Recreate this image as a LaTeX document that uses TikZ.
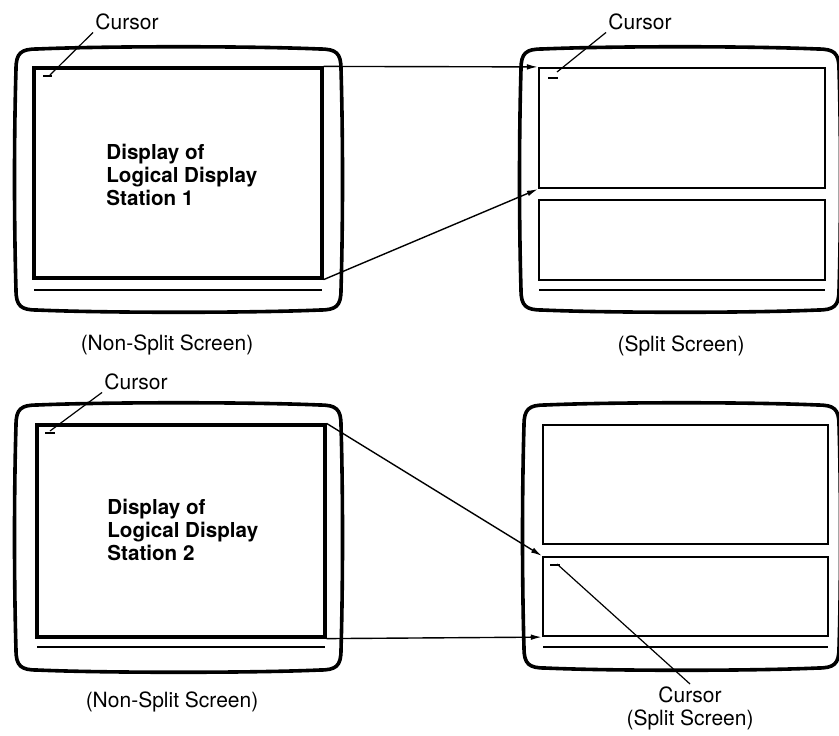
\documentclass[tikz,border=0pt]{standalone}
\usepackage{fontspec}
\setmainfont{TeX Gyre Heros}
\usetikzlibrary{arrows.meta,fit}

% outer bezel of a display, corners (#1,#2) and (#3,#4)
\newcommand\crtbezel[4]{%
  \draw[bezel] (#1+22,#2+2)
    .. controls (#1+90,#2-1) and (#3-90,#2-1) .. (#3-22,#2+2)
    .. controls (#3-6,#2+2) and (#3-1,#2+6) .. (#3-1,#2+22)
    .. controls (#3+1,#2+90) and (#3+1,#4-90) .. (#3-1,#4-22)
    .. controls (#3-1,#4-6) and (#3-6,#4-2) .. (#3-22,#4-2)
    .. controls (#3-90,#4+1) and (#1+90,#4+1) .. (#1+22,#4-2)
    .. controls (#1+6,#4-2) and (#1+1,#4-6) .. (#1+1,#4-22)
    .. controls (#1-1,#4-90) and (#1-1,#2+90) .. (#1+1,#2+22)
    .. controls (#1+1,#2+6) and (#1+6,#2+2) .. (#1+22,#2+2) -- cycle;}

\begin{document}
\begin{tikzpicture}[
  x=0.5pt, y=-0.5pt,
  font=\fontsize{10.5}{11.5}\selectfont,
  bezel/.style={line width=1.8pt, line join=round},
  screen/.style={draw, line width=1.6pt, inner sep=0pt},
  pane/.style={draw, line width=1.1pt, inner sep=0pt},
  base/.style={line width=1.1pt},
  cursormark/.style={line width=1.4pt},
  lbl/.style={inner sep=1pt},
  disp/.style={align=left, inner sep=0pt, font=\fontsize{10.3}{11.5}\selectfont\bfseries},
  leader/.style={line width=0.6pt},
  arrow/.style={line width=0.7pt, -{Latex[length=5.5pt,width=2.8pt]}}
]
\useasboundingbox (0,0) rectangle (839,735);

% top row: non-split screen
\crtbezel{15}{47}{342}{312}
\node[screen, fit={(34,68)(322,278)}] (scrA) {};
\draw[base] (34,290) -- (322,290);
\draw[cursormark] (43,76) -- (52,76);
\coordinate (curA) at (50,75);
\node[disp, anchor=north west] (txtA) at (106,144)
  {Display of\\Logical Display\\Station 1};
\node[lbl] (curlblA) at (127,22) {Cursor};
\draw[leader] (curlblA.south west) -- (curA);
\node[lbl] (capA) at (167,345) {(Non-Split Screen)};

% top row: split screen
\crtbezel{520}{47}{840}{312}
\node[pane, fit={(539,68)(825,188)}] (topA) {};
\node[pane, fit={(539,200)(825,280)}] (lowA) {};
\draw[base] (539,290) -- (825,290);
\draw[cursormark] (548,78) -- (558,78);
\coordinate (curB) at (557,72);
\node[lbl] (curlblB) at (640,22) {Cursor};
\draw[leader] (curlblB.south west) -- (curB);
\node[lbl] (capB) at (681,346) {(Split Screen)};

\draw[arrow] (scrA.north east) -- (topA.north west);
\draw[arrow] (scrA.south east) -- (topA.south west);

% bottom row: non-split screen
\crtbezel{15}{403}{342}{672}
\node[screen, fit={(37,425)(325,637)}] (scrB) {};
\draw[base] (37,647) -- (325,647);
\draw[cursormark] (45,433) -- (55,433);
\coordinate (curC) at (50,431);
\node[disp, anchor=north west] (txtB) at (107,499)
  {Display of\\Logical Display\\Station 2};
\node[lbl] (curlblC) at (136,382) {Cursor};
\draw[leader] (curlblC.south west) -- (curC);
\node[lbl] (capC) at (172,702) {(Non-Split Screen)};

% bottom row: split screen
\crtbezel{523}{403}{840}{670}
\node[pane, fit={(543,425)(828,544)}] (topB) {};
\node[pane, fit={(543,557)(828,636)}] (lowB) {};
\draw[base] (543,647) -- (828,647);
\draw[cursormark] (550,565) -- (560,565);
\coordinate (curD) at (557,564);
\node[lbl, align=center] (curlblD) at (690,708) {Cursor\\(Split Screen)};
\draw[leader] (curlblD.north) -- (curD);

\draw[arrow] (scrB.north east) -- (lowB.north west);
\draw[arrow] (scrB.south east) -- (lowB.south west);
\end{tikzpicture}
\end{document}
